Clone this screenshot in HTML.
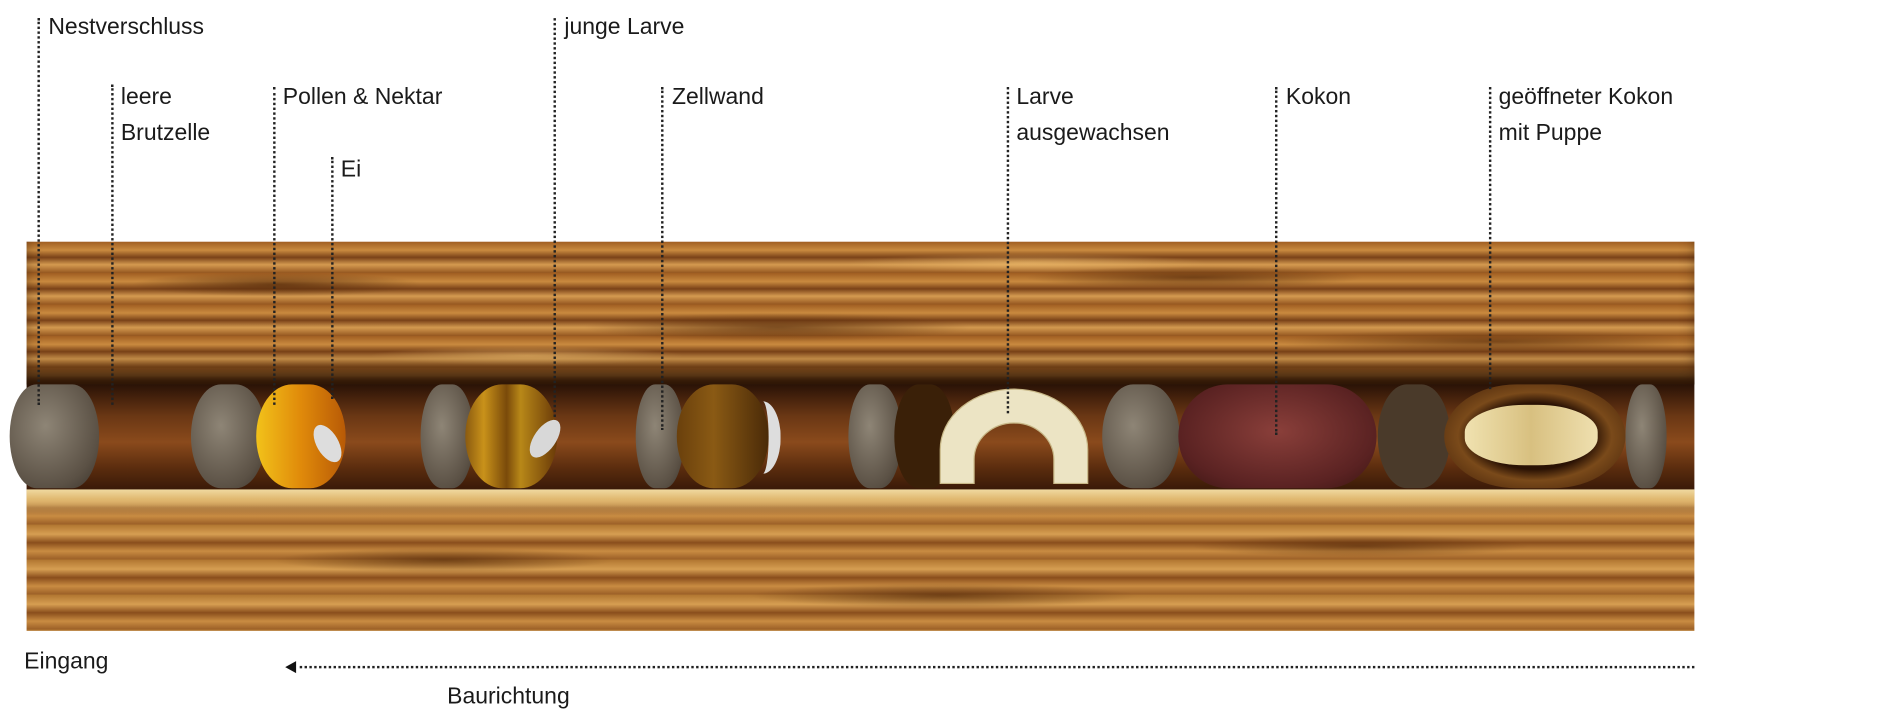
<!DOCTYPE html>
<html><head><meta charset="utf-8"><style>
html,body{margin:0;padding:0;background:#fff;width:1895px;height:717px;overflow:hidden}
#s{position:absolute;left:0;top:0;width:1568px;height:593px;transform:scale(1.20855);transform-origin:0 0;font-family:"Liberation Sans Narrow","Liberation Sans",sans-serif;color:#1a1a1a}
.t{position:absolute;font-size:19px;line-height:30px;white-space:nowrap}
.l{position:absolute;width:0;border-left:2px dotted #222}
.wood{position:absolute;left:22px;width:1380px;
background:
radial-gradient(ellipse 120px 10px at 15% 30%,rgba(80,38,8,.7),transparent),
radial-gradient(ellipse 160px 12px at 45% 60%,rgba(80,38,8,.65),transparent),
radial-gradient(ellipse 140px 9px at 70% 25%,rgba(80,38,8,.65),transparent),
radial-gradient(ellipse 180px 10px at 88% 70%,rgba(80,38,8,.6),transparent),
radial-gradient(ellipse 130px 8px at 30% 80%,rgba(240,190,110,.6),transparent),
radial-gradient(ellipse 150px 8px at 60% 15%,rgba(240,190,110,.6),transparent),
repeating-linear-gradient(180deg,#a05e22 0px,#c98a3f 7px,#7a4218 13px,#d49a50 19px,#94561f 26px);}
.cell{position:absolute;top:318px;height:86px;border-radius:40%/50%}
.g{background:radial-gradient(ellipse at 40% 40%,#8e8576,#5b5145 70%,#3a332b)}
</style></head><body><div id="s">
<div class="wood" style="top:200px;height:118px;box-shadow:inset 0 -18px 16px -6px #2a1405"></div>
<div style="position:absolute;left:22px;top:318px;width:1380px;height:87px;background:linear-gradient(180deg,#2a1206,#6a3714 30%,#8a4a1c 55%,#5a2c0e 80%,#3a1a08)"></div>
<div class="wood" style="top:405px;height:117px;background:linear-gradient(180deg,#f0d9a0 0,#e0b870 8px,transparent 22px),radial-gradient(ellipse 140px 10px at 25% 50%,rgba(80,38,8,.65),transparent),radial-gradient(ellipse 160px 10px at 55% 75%,rgba(80,38,8,.65),transparent),radial-gradient(ellipse 140px 9px at 80% 40%,rgba(80,38,8,.6),transparent),repeating-linear-gradient(180deg,#b07530 0px,#d69e52 8px,#8a4e1c 15px,#c98c42 22px,#9a5e26 29px);"></div>
<div class="cell g" style="left:8px;width:74px;border-radius:30%/50%"></div>
<div class="cell g" style="left:158px;width:62px"></div>
<div class="cell" style="left:212px;width:74px;background:linear-gradient(90deg,#f2c21a,#e08a0a 50%,#b85a06)"></div>
<div style="position:absolute;left:262px;top:350px;width:18px;height:34px;background:#ddd;border-radius:50%;transform:rotate(-30deg)"></div>
<div class="cell g" style="left:348px;width:44px"></div>
<div class="cell" style="left:385px;width:76px;background:linear-gradient(90deg,#8a5a10,#c9921a 20%,#7a4a0a 45%,#b88818 60%,#6a3a08)"></div>
<div style="position:absolute;left:442px;top:345px;width:18px;height:36px;background:#d8d8d8;border-radius:50%;transform:rotate(35deg)"></div>
<div class="cell g" style="left:526px;width:40px"></div>
<div class="cell" style="left:560px;width:76px;background:linear-gradient(90deg,#6a400c,#8a5a14 40%,#4a2a08)"></div>
<div style="position:absolute;left:616px;top:332px;width:30px;height:60px;border-radius:50%;border-right:10px solid #ddd;box-sizing:border-box"></div>
<div class="cell g" style="left:702px;width:44px"></div>
<div class="cell" style="left:740px;width:50px;background:#3a2008"></div>
<svg style="position:absolute;left:0;top:0" width="1568" height="593"><path d="M778,400 L778,372 A61,50 0 0 1 900,372 L900,400 L872,400 L872,380 A33,30 0 0 0 806,380 L806,400 Z" fill="#ece4c4" stroke="#c8b888" stroke-width="1"/></svg>
<div class="cell g" style="left:912px;width:64px"></div>
<div class="cell" style="left:975px;width:164px;border-radius:25%/50%;background:radial-gradient(ellipse at 50% 45%,#8a3f3a,#5a2222 70%,#3a1512)"></div>
<div class="cell" style="left:1140px;width:60px;background:#4a3a2a"></div>
<div class="cell" style="left:1195px;width:150px;background:radial-gradient(ellipse at 50% 50%,#2a1204 45%,#7a4a1a 60%,#3a1a06)"></div>
<div style="position:absolute;left:1212px;top:335px;width:110px;height:50px;border-radius:45%;background:linear-gradient(90deg,#f0e2b0,#d8c080 50%,#efe0b0)"></div>
<div class="cell g" style="left:1345px;width:34px"></div>

<div class="l" style="left:31px;top:15px;height:320px"></div>
<div class="l" style="left:92px;top:70px;height:265px"></div>
<div class="l" style="left:226px;top:72px;height:263px"></div>
<div class="l" style="left:274px;top:130px;height:200px"></div>
<div class="l" style="left:458px;top:15px;height:330px"></div>
<div class="l" style="left:547px;top:72px;height:284px"></div>
<div class="l" style="left:833px;top:72px;height:270px"></div>
<div class="l" style="left:1055px;top:72px;height:288px"></div>
<div class="l" style="left:1232px;top:72px;height:250px"></div>

<div class="t" style="left:40px;top:8px">Nestverschluss</div>
<div class="t" style="left:100px;top:66px">leere<br>Brutzelle</div>
<div class="t" style="left:234px;top:66px">Pollen &amp; Nektar</div>
<div class="t" style="left:282px;top:126px">Ei</div>
<div class="t" style="left:467px;top:8px">junge Larve</div>
<div class="t" style="left:556px;top:66px">Zellwand</div>
<div class="t" style="left:841px;top:66px">Larve<br>ausgewachsen</div>
<div class="t" style="left:1064px;top:66px">Kokon</div>
<div class="t" style="left:1240px;top:66px">geöffneter Kokon<br>mit Puppe</div>
<div class="t" style="left:20px;top:533px">Eingang</div>
<div class="t" style="left:370px;top:562px">Baurichtung</div>
<div style="position:absolute;left:236px;top:547px;width:0;height:0;border-top:5px solid transparent;border-bottom:5px solid transparent;border-right:9px solid #111"></div>
<div style="position:absolute;left:248px;top:551px;width:1154px;border-top:2px dotted #222"></div>
</div></body></html>
